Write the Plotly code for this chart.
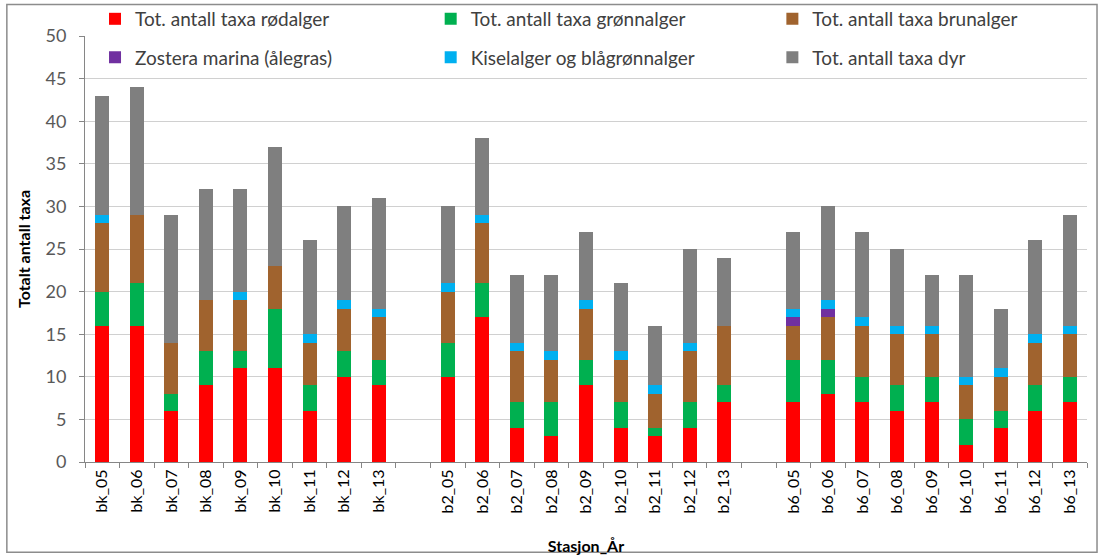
import plotly.graph_objects as go

stations = ["bk_05", "bk_06", "bk_07", "bk_08", "bk_09", "bk_10", "bk_11", "bk_12", "bk_13", " ",
            "b2_05", "b2_06", "b2_07", "b2_08", "b2_09", "b2_10", "b2_11", "b2_12", "b2_13", "  ",
            "b6_05", "b6_06", "b6_07", "b6_08", "b6_09", "b6_10", "b6_11", "b6_12", "b6_13"]

rodalger = [16, 16, 6, 9, 11, 11, 6, 10, 9, None,
            10, 17, 4, 3, 9, 4, 3, 4, 7, None,
            7, 8, 7, 6, 7, 2, 4, 6, 7]
gronnalger = [4, 5, 2, 4, 2, 7, 3, 3, 3, None,
              4, 4, 3, 4, 3, 3, 1, 3, 2, None,
              5, 4, 3, 3, 3, 3, 2, 3, 3]
brunalger = [8, 8, 6, 6, 6, 5, 5, 5, 5, None,
             6, 7, 6, 5, 6, 5, 4, 6, 7, None,
             4, 5, 6, 6, 5, 4, 4, 5, 5]
zostera = [0, 0, 0, 0, 0, 0, 0, 0, 0, None,
           0, 0, 0, 0, 0, 0, 0, 0, 0, None,
           1, 1, 0, 0, 0, 0, 0, 0, 0]
kiselalger = [1, 0, 0, 0, 1, 0, 1, 1, 1, None,
              1, 1, 1, 1, 1, 1, 1, 1, 0, None,
              1, 1, 1, 1, 1, 1, 1, 1, 1]
dyr = [14, 15, 15, 13, 12, 14, 11, 11, 13, None,
       9, 9, 8, 9, 8, 8, 7, 11, 8, None,
       9, 11, 10, 9, 6, 12, 7, 11, 13]

series_names = ["Tot. antall taxa rødalger", "Tot. antall taxa grønnalger", "Tot. antall taxa brunalger",
                "Zostera marina (ålegras)", "Kiselalger og blågrønnalger", "Tot. antall taxa dyr"]
series_values = [rodalger, gronnalger, brunalger, zostera, kiselalger, dyr]
series_colors = ["#FF0000", "#00B050", "#A0632E", "#7030A0", "#00B0F0", "#7F7F7F"]

# legend placement: 3 columns x 2 rows
legend_cols = [0.010, 0.345, 0.686]
legend_rows = [1.040, 0.950]

font_family = "Lato, 'Open Sans', sans-serif"

fig = go.Figure()
legend_layout = {}
for i, (name, vals, color) in enumerate(zip(series_names, series_values, series_colors)):
    key = "legend" if i == 0 else f"legend{i + 1}"
    fig.add_trace(go.Bar(x=stations, y=vals, name=name, showlegend=True,
                         marker=dict(color=color, line=dict(width=0)), legend=key))
    legend_layout[key] = dict(
        x=legend_cols[i % 3], y=legend_rows[i // 3], xanchor="left", yanchor="middle",
        bgcolor="rgba(0,0,0,0)", borderwidth=0,
        font=dict(family=font_family, size=19, color="#404040"),
    )

fig.update_layout(
    width=1104, height=558, showlegend=True,
    margin=dict(l=85, r=17, t=36, b=96, autoexpand=False),
    paper_bgcolor="white", plot_bgcolor="white",
    barmode="stack", bargap=0.595,
    font=dict(family=font_family),
    xaxis=dict(
        type="category", categoryorder="array", categoryarray=stations,
        tickangle=-90, tickfont=dict(family=font_family, size=16, color="#000000"),
        showgrid=False, showline=True, linecolor="#868686", linewidth=1,
        ticks="outside", tickson="boundaries", ticklen=5, tickcolor="#868686",
        title=dict(text="<b>Stasjon_År</b>", font=dict(family=font_family, size=16, color="#000000"),
                   standoff=28),
    ),
    yaxis=dict(
        range=[0, 50], dtick=5, tickfont=dict(family=font_family, size=18, color="#595959"),
        showgrid=True, gridcolor="#D0D0D0", gridwidth=1,
        showline=True, linecolor="#868686", linewidth=1,
        ticks="outside", ticklen=5, tickcolor="#868686", zeroline=False,
        ticklabelstandoff=9,
        title=dict(text="<b>Totalt antall taxa</b>", font=dict(family=font_family, size=16, color="#000000"),
                   standoff=10),
    ),
    shapes=[dict(type="rect", xref="paper", yref="paper", x0=-0.078, x1=1.010, y0=-0.212, y1=1.074,
                 line=dict(color="#8C8C8C", width=1.5), fillcolor="rgba(0,0,0,0)", layer="below")],
    **legend_layout,
)

fig.write_html("out.html", config={"displayModeBar": False},
               post_script="document.body.style.margin='0px';")
